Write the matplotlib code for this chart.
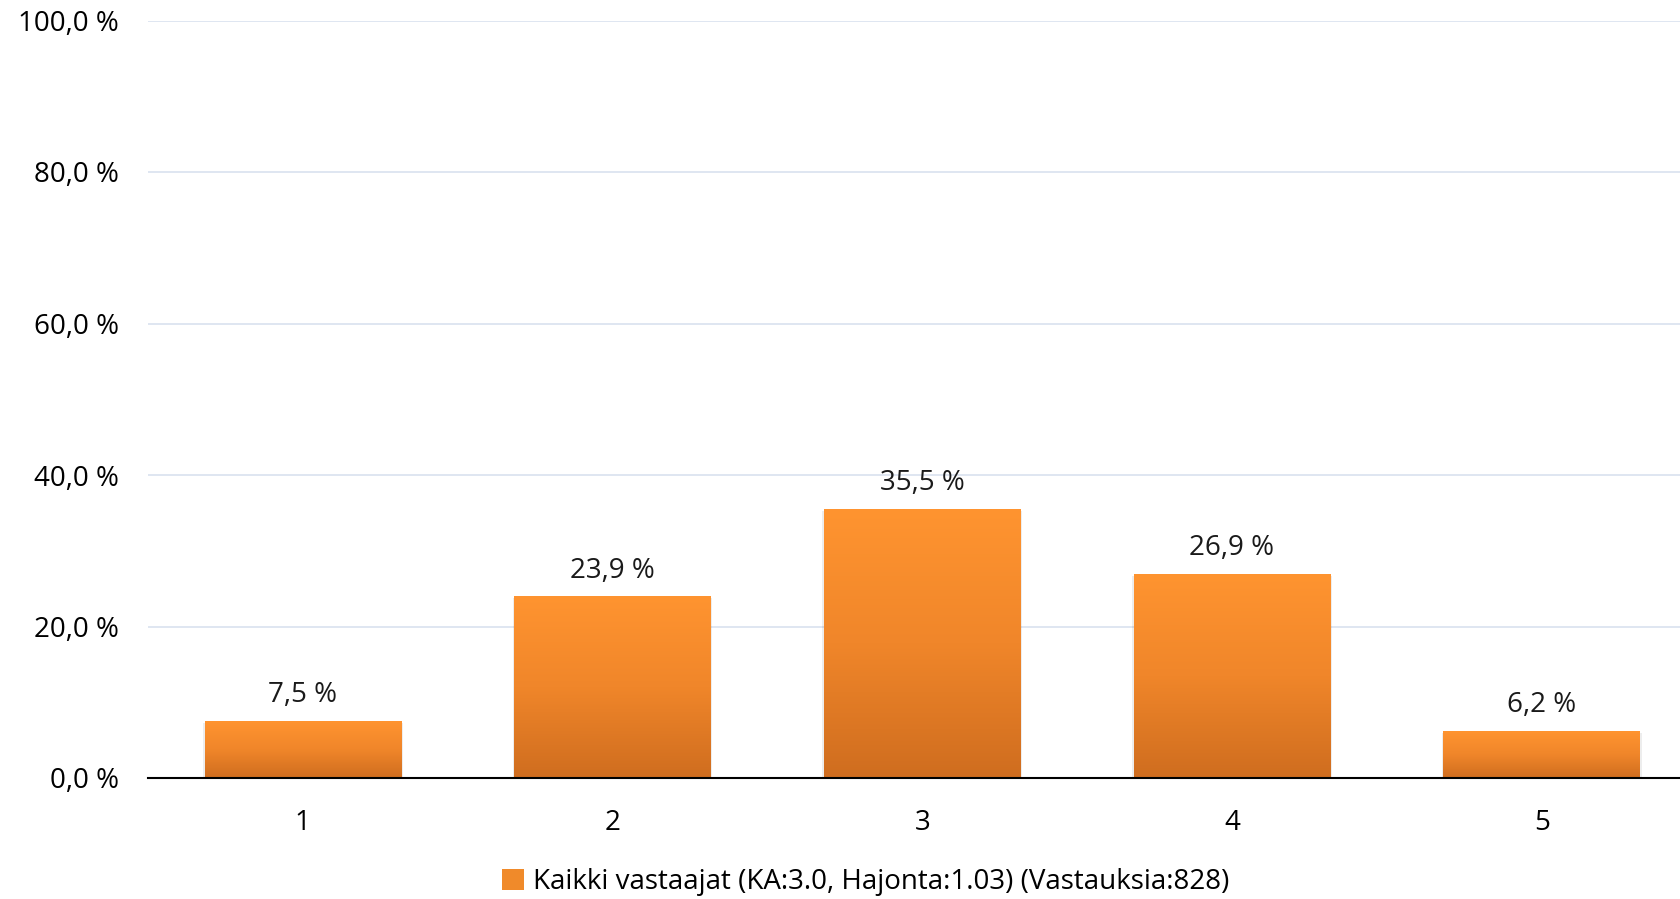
import numpy as np
import matplotlib.pyplot as plt
from matplotlib.colors import LinearSegmentedColormap
from matplotlib.patches import Patch

categories = ["1", "2", "3", "4", "5"]
values = [7.5, 23.9, 35.5, 26.9, 6.2]
series_label = "Kaikki vastaajat (KA:3.0, Hajonta:1.03) (Vastauksia:828)"
yticks = [0, 20, 40, 60, 80, 100]

plt.rcParams["font.family"] = ["Open Sans", "DejaVu Sans"]

fig = plt.figure(figsize=(16.81, 8.99), dpi=100)
ax = fig.add_axes([148 / 1681, 1 - 778 / 899, 1 - 148 / 1681, (778 - 20.5) / 899])

x = np.arange(1, len(categories) + 1)
width = 0.635
bars = ax.bar(x, values, width=width, color="none", edgecolor="none", zorder=3)

# vertical orange gradient inside each bar
cmap = LinearSegmentedColormap.from_list("orange", ["#cf6d1f", "#f0862a", "#ff9430"])
grad = np.linspace(0, 1, 256).reshape(-1, 1)
for b in bars:
    x0, y0 = b.get_x(), b.get_y()
    w, h = b.get_width(), b.get_height()
    # soft shadow
    ax.bar(x0 + w / 2, h + 0.3, width=w + 0.01, bottom=-0.5, color="#000000", alpha=0.07, zorder=2)
    ax.imshow(grad, extent=[x0, x0 + w, y0, y0 + h], origin="lower", cmap=cmap,
              aspect="auto", zorder=3)

for xi, v in zip(x, values):
    ax.text(xi, v + 1.6, f"{v:.1f} %".replace(".", ","), ha="center", va="bottom",
            fontsize=20, color="#1a1a1a")

ax.set_xlim(0.5, 5.45)
ax.set_ylim(0, 100)
ax.set_xticks(x)
ax.set_xticklabels(categories, fontsize=20)
ax.set_yticks(yticks)
ax.set_yticklabels([f"{t:.1f} %".replace(".", ",") for t in yticks], fontsize=20)
ax.tick_params(axis="y", length=0, pad=21)
ax.tick_params(axis="x", length=0, pad=22.5)
ax.grid(axis="y", color="#d9e2ef", linewidth=1.2, zorder=0)
for s in ["top", "right", "left"]:
    ax.spines[s].set_visible(False)
ax.spines["bottom"].set_color("black")
ax.spines["bottom"].set_linewidth(1.5)
ax.spines["bottom"].set_zorder(4)
ax.set_axisbelow(True)

handle = Patch(facecolor="#f08a2a", edgecolor="none")
fig.legend([handle], [series_label], loc="center", bbox_to_anchor=(0.515, 1 - 882 / 899),
           frameon=False, fontsize=20, handlelength=0.8, handleheight=0.8, handletextpad=0.3)

fig.savefig("out.png", dpi=100)
